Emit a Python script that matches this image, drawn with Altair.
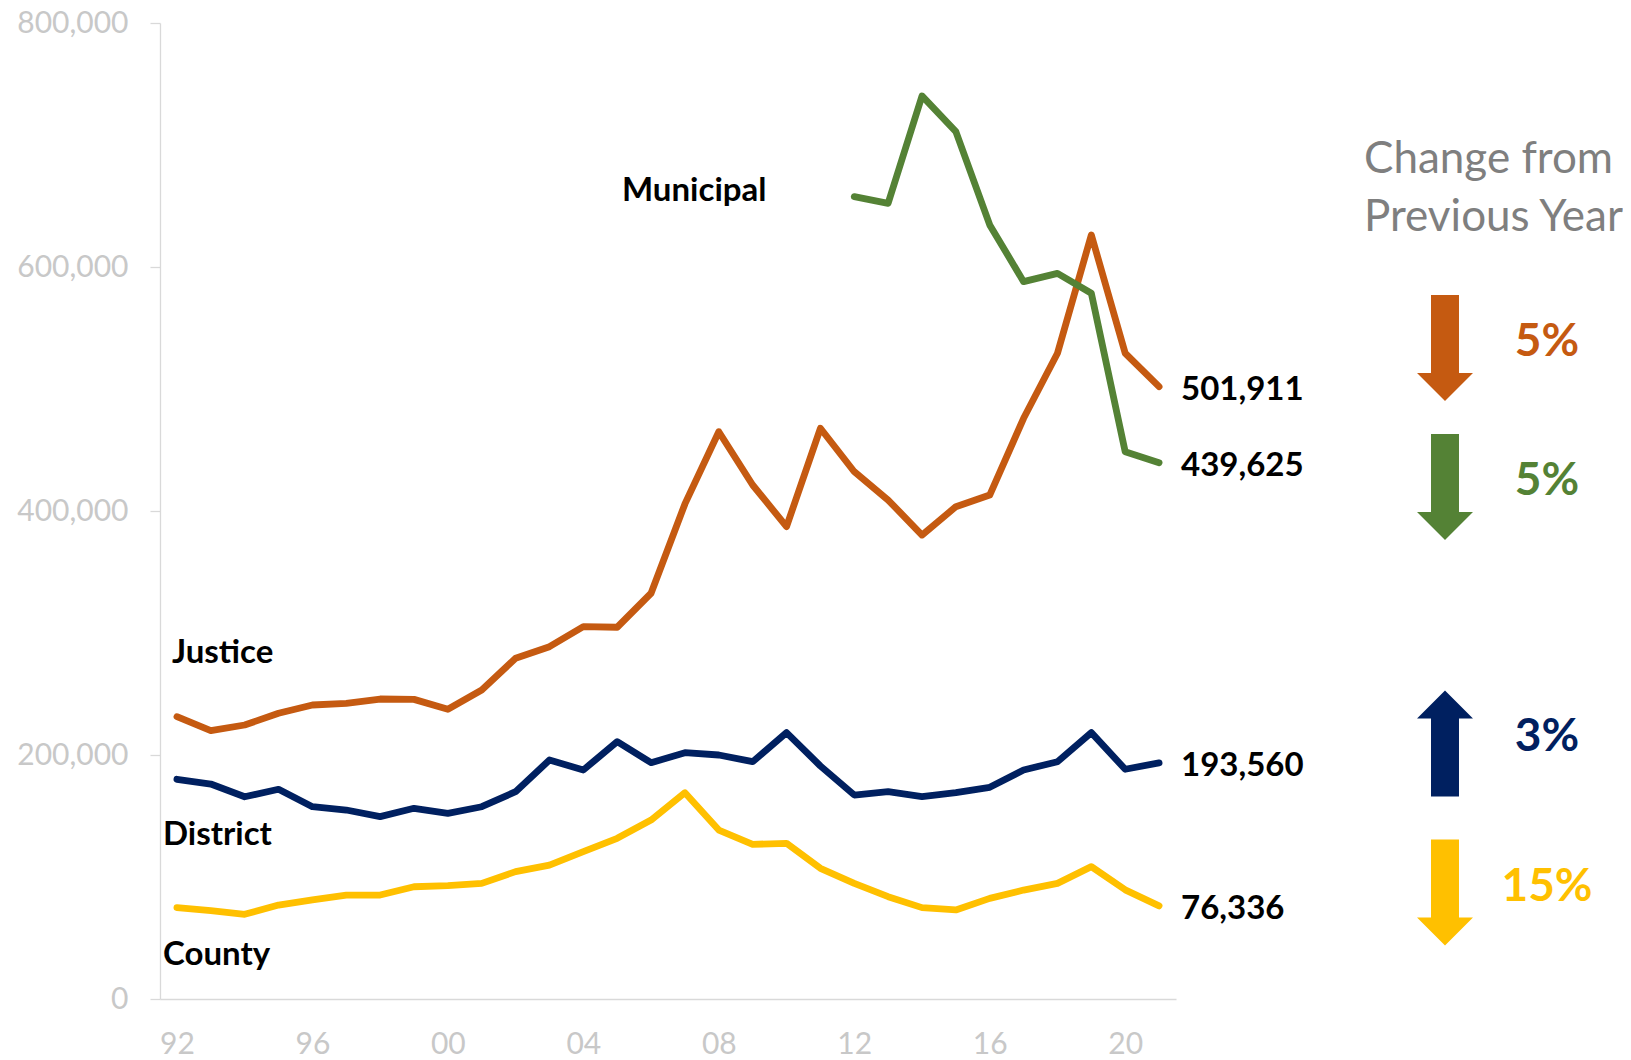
import altair as alt
import pandas as pd

# ---------------- data ----------------
years = list(range(1992, 2022))
justice = [231400, 219900, 224600, 234200, 241000, 242400, 245900, 245600, 237500, 253300,
           279300, 288800, 305200, 304700, 332600, 405800, 465000, 421300, 387200, 467800,
           432200, 409000, 380300, 403500, 413100, 476000, 529300, 626300, 529300, 501911]
district = [180100, 176200, 165800, 171900, 157600, 154900, 149500, 156300, 152200, 157600,
            169900, 195900, 187700, 210900, 193700, 201900, 200000, 194500, 218300, 191000,
            167200, 169900, 165800, 169100, 173500, 187700, 194500, 218300, 188300, 193560]
county = [74900, 72400, 69400, 77000, 81200, 85200, 85200, 92000, 92900, 94800,
          104400, 109800, 120800, 131700, 146700, 169100, 138500, 126800, 127600, 107100,
          94800, 83900, 74900, 73000, 82500, 89300, 94800, 108500, 89500, 76336]
municipal_years = list(range(2012, 2022))
municipal = [657700, 652200, 740200, 711000, 634500, 588000, 594800, 578500, 448600, 439625]

courts = ["Justice", "District", "County", "Municipal"]
court_colors = ["#C55A11", "#002060", "#FFC000", "#548235"]
# change from previous year, listed top to bottom as shown on the right
change_courts = ["Justice", "Municipal", "District", "County"]
change_pct = ["5%", "5%", "3%", "15%"]
change_dir = ["down", "down", "up", "down"]
tick_years = [1992, 1996, 2000, 2004, 2008, 2012, 2016, 2020]
y_ticks = [0, 200000, 400000, 600000, 800000]
header_lines = ["Change from", "Previous Year"]

rows = []
for name, ys, vals in [("Justice", years, justice), ("District", years, district),
                       ("County", years, county), ("Municipal", municipal_years, municipal)]:
    for yr, v in zip(ys, vals):
        rows.append({"court": name, "year": yr, "cases": v})
df = pd.DataFrame(rows)
last = df[df["year"] == 2021].copy()
color_of = dict(zip(courts, court_colors))

# ---------------- layout (page pixels) ----------------
PLOT_LEFT, PLOT_TOP = 160, 23
W, H = 1016, 976
FONT = "Lato"

color_scale = alt.Scale(domain=courts, range=court_colors)
x_scale = alt.Scale(domain=[1991.5, 2021.5], nice=False, zero=False)
y_scale = alt.Scale(domain=[0, 800000], nice=False)

x_axis = alt.Axis(values=tick_years, labelExpr="substring(toString(datum.value), 2, 4)",
                  title=None, grid=False, ticks=False, tickSize=0, labelPadding=30,
                  labelFont=FONT, labelFontSize=30, labelColor="#c8c8c8",
                  domainColor="#d9d9d9", domainWidth=1.3, labelFlush=False)
y_axis = alt.Axis(values=y_ticks, format=",.0f", title=None, grid=False, tickSize=10,
                  tickColor="#d9d9d9", tickWidth=1.3, labelPadding=22,
                  labelFont=FONT, labelFontSize=30, labelColor="#c8c8c8",
                  domainColor="#d9d9d9", domainWidth=1.3, labelFlush=False)

lines = alt.Chart(df).mark_line(strokeWidth=6.8, strokeCap="round", strokeJoin="round").encode(
    x=alt.X("year:Q", scale=x_scale, axis=x_axis),
    y=alt.Y("cases:Q", scale=y_scale, axis=y_axis),
    color=alt.Color("court:N", scale=color_scale, legend=None),
)

end_labels = alt.Chart(last).mark_text(align="left", baseline="middle", dx=22, dy=3,
                                       font=FONT, fontSize=33, fontWeight="bold",
                                       color="black").encode(
    x=alt.X("year:Q", scale=x_scale),
    y=alt.Y("cases:Q", scale=y_scale),
    text=alt.Text("cases:Q", format=",.0f"),
)


def label(text, px, py, size, color, weight="bold", align="left"):
    return alt.Chart(pd.DataFrame({"t": [text]})).mark_text(
        align=align, baseline="alphabetic", font=FONT, fontSize=size,
        fontWeight=weight, color=color).encode(
        text="t:N", x=alt.value(px - PLOT_LEFT), y=alt.value(py - PLOT_TOP))


DOWN = "M -0.264 -1 L 0.264 -1 L 0.264 0.472 L 0.528 0.472 L 0 1 L -0.528 0.472 L -0.264 0.472 Z"
UP = "M -0.264 1 L 0.264 1 L 0.264 -0.472 L 0.528 -0.472 L 0 -1 L -0.528 -0.472 L -0.264 -0.472 Z"


def arrow(direction, px, py, color):
    return alt.Chart(pd.DataFrame({"a": [0]})).mark_point(
        shape=DOWN if direction == "down" else UP, size=106 * 106, filled=True,
        opacity=1, strokeWidth=0, color=color).encode(
        x=alt.value(px - PLOT_LEFT), y=alt.value(py - PLOT_TOP))


series_label_pos = {"Municipal": (622, 201), "Justice": (172, 663),
                    "District": (163, 845), "County": (163, 965)}
arrow_y = [348, 487, 743.5, 892.5]
pct_baseline = [356, 495, 751, 901]
ARROW_X, PCT_X = 1445, 1547

layers = [lines, end_labels]
for name in courts:
    px, py = series_label_pos[name]
    layers.append(label(name, px, py, 33, "black"))
for i, name in enumerate(change_courts):
    c = color_of[name]
    layers.append(arrow(change_dir[i], ARROW_X, arrow_y[i], c))
    layers.append(label(change_pct[i], PCT_X, pct_baseline[i], 46, c, align="center"))
layers.append(label(header_lines[0], 1364, 173, 44, "#7f7f7f", weight="normal"))
layers.append(label(header_lines[1], 1364, 231, 44, "#7f7f7f", weight="normal"))

chart = alt.layer(*layers).properties(
    width=W, height=H,
    autosize=alt.AutoSizeParams(type="none"),
    padding={"left": PLOT_LEFT - 8, "top": PLOT_TOP - 8, "right": 1615 - (PLOT_LEFT - 8) - W,
             "bottom": 1052 - (PLOT_TOP - 8) - H},
    background="white",
).configure_view(strokeWidth=0)

chart.save("out.html", embed_options={"renderer": "svg", "actions": False})
